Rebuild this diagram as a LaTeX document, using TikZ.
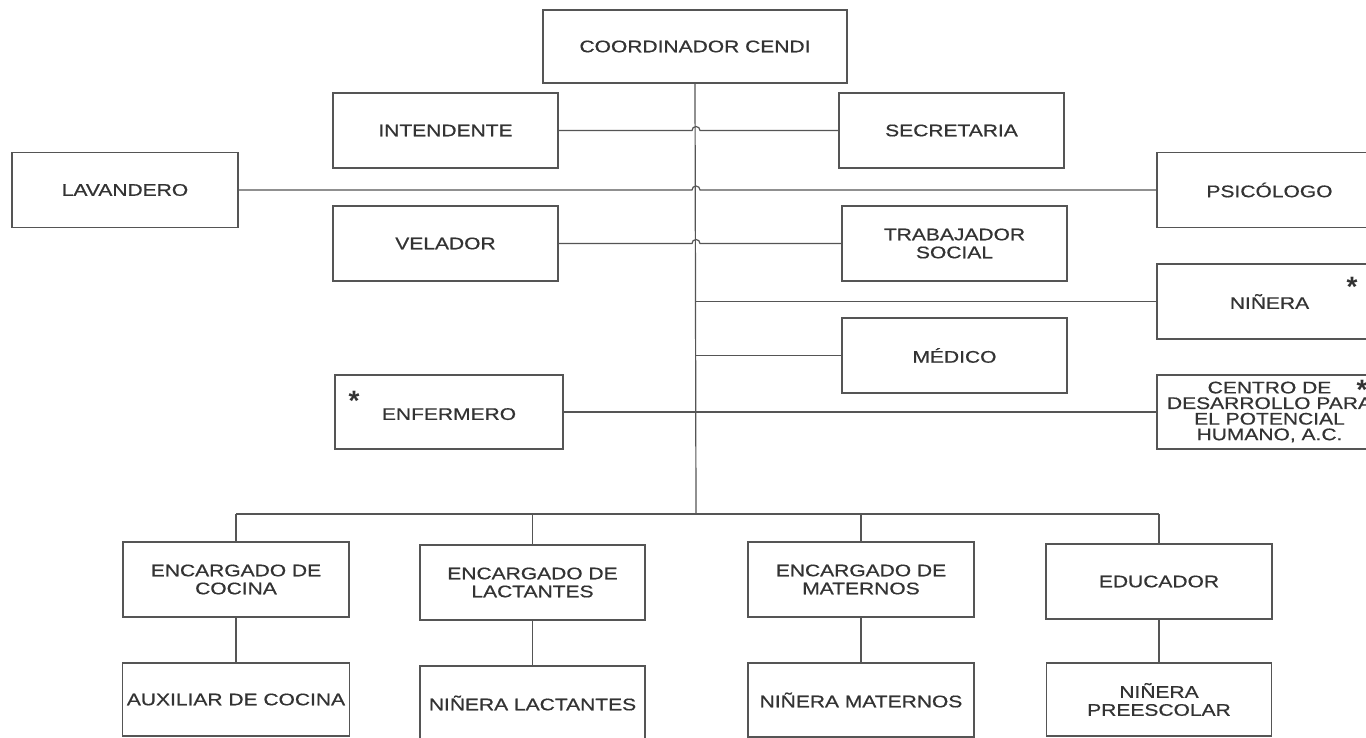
\documentclass[tikz,border=0pt]{standalone}
\usepackage{fontspec}
\setmainfont{Liberation Sans}[FakeStretch=1.25, FakeBold=0.6]
\newfontfamily\starfont{Liberation Sans Bold}
\definecolor{ink}{HTML}{333333}
\definecolor{rule}{HTML}{555555}
\begin{document}
\begin{tikzpicture}[x=1pt,y=-1pt,
  box/.style={draw=rule, line width=1.4pt, rectangle, inner sep=0pt,
    minimum width=225pt, minimum height=75pt, align=center, text=ink,
    font=\fontsize{16.8}{18}\selectfont},
  link/.style={draw=rule, line width=1.2pt},
  starmark/.style={inner sep=0pt, anchor=north, text=ink,
    font=\starfont\fontsize{28}{28}\selectfont}]
\useasboundingbox (0,0) rectangle (1366,738);
\clip (0,0) rectangle (1366,738);
\fill[white] (0,0) rectangle (1366,738);

% nodes
\node[box, minimum width=304pt, minimum height=73pt] (coord) at (695,46.5) {COORDINADOR CENDI};
\node[box] (int) at (445.5,130.5) {INTENDENTE};
\node[box] (sec) at (951.5,130.5) {SECRETARIA};
\node[box, minimum width=226pt] (lav) at (125,190) {LAVANDERO};
\node[box] (psi) at (1269.5,190) {PSICÓLOGO};
\node[box] (vel) at (445.5,243.5) {VELADOR};
\node[box] (tra) at (954.5,243.5) {TRABAJADOR\\SOCIAL};
\node[box] (nin) at (1269.5,301.5) {NIÑERA};
\node[box] (med) at (954.5,355.5) {MÉDICO};
\node[box, minimum width=228pt, minimum height=74pt, text depth=0pt] (enf) at (449,412) {\raisebox{-4pt}{ENFERMERO}};
\node[box, minimum height=74pt, font=\fontsize{16.8}{15.6}\selectfont] (cen) at (1269.5,412) {CENTRO DE\\DESARROLLO PARA\\EL POTENCIAL\\HUMANO, A.C.};
\node[box, minimum width=226pt] (coc) at (236,579.5) {ENCARGADO DE\\COCINA};
\node[box] (lac) at (532.5,582.5) {ENCARGADO DE\\LACTANTES};
\node[box, minimum width=226pt] (mat) at (861,579.5) {ENCARGADO DE\\MATERNOS};
\node[box, minimum width=226pt] (edu) at (1159,581.5) {EDUCADOR};
\node[box, minimum width=227pt, minimum height=73pt] (aux) at (236,699.5) {AUXILIAR DE COCINA};
\node[box, minimum height=74pt] (nla) at (532.5,703) {NIÑERA LACTANTES};
\node[box, minimum width=226pt, minimum height=74pt] (nma) at (861,700) {NIÑERA MATERNOS};
\node[box, minimum height=73pt] (npr) at (1159,699.5) {NIÑERA\\PREESCOLAR};

% stars
\node[starmark] (s1) at (1352,277) {*};
\node[starmark] (s2) at (1362,380) {*};
\node[starmark] (s3) at (354,391) {*};

% trunk and bus
\coordinate (bus) at (696,514);
\draw[link] (coord.south) -- (bus);
\draw[link] (coc.north |- bus) -- (edu.north |- bus);
\draw[link] (coc.north |- bus) -- (coc.north);
\draw[link] (lac.north |- bus) -- (lac.north);
\draw[link] (mat.north |- bus) -- (mat.north);
\draw[link] (edu.north |- bus) -- (edu.north);
\draw[link] (coc.south) -- (aux.north);
\draw[link] (lac.south) -- (nla.north);
\draw[link] (mat.south) -- (nma.north);
\draw[link] (edu.south) -- (npr.north);

% crossing lines with hops over the trunk
\draw[link] (int.east) -- ([xshift=-4pt]int.east -| bus) arc[start angle=180, end angle=360, radius=4] -- (sec.west);
\draw[link] (lav.east) -- ([xshift=-4pt]lav.east -| bus) arc[start angle=180, end angle=360, radius=4] -- (psi.west);
\draw[link] (vel.east) -- ([xshift=-4pt]vel.east -| bus) arc[start angle=180, end angle=360, radius=4] -- (tra.west);
% branches from trunk
\draw[link] (nin.west -| bus) -- (nin.west);
\draw[link] (med.west -| bus) -- (med.west);
\draw[link] (enf.east) -- (cen.west);
\end{tikzpicture}
\end{document}
